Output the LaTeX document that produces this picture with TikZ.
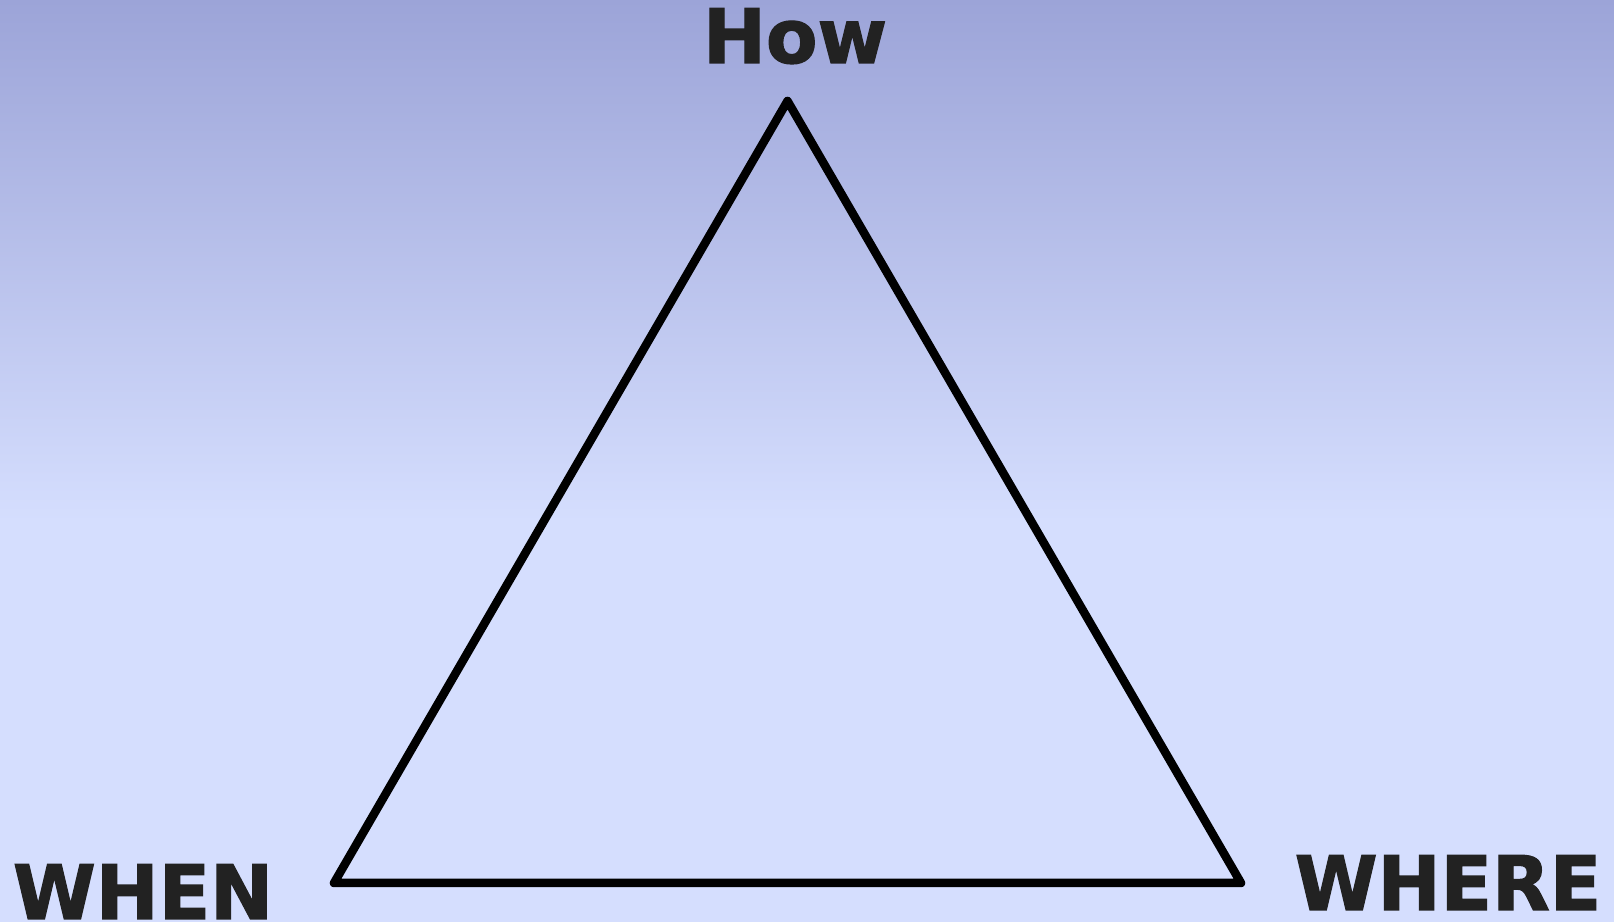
\documentclass[tikz,border=0pt]{standalone}
\usepackage{fontspec}
\setmainfont{DejaVu Sans}
\newfontfamily\heavyfont{DejaVu Sans}[UprightFont={* Bold},FakeBold=1.6]
\usetikzlibrary{positioning}
\definecolor{skytop}{HTML}{9CA4D8}
\definecolor{skylow}{HTML}{D5DEFE}
\definecolor{wordgray}{HTML}{222222}

\begin{document}
\begin{tikzpicture}[font=\heavyfont\fontsize{21.4}{24}\selectfont]
    \tikzstyle{word}=[inner sep=0pt,anchor=base,text depth=0pt,text=wordgray]
    \tikzstyle{edge}=[line width=0.085cm,line join=round,line cap=round]
    \useasboundingbox (0,0) rectangle (16.14,9.22);
    % background
    \fill[skylow] (0,0) rectangle (16.14,4.02);
    \shade[top color=skytop,bottom color=skylow] (0,4) rectangle (16.14,9.22);
    % corners of the triangle
    \coordinate (top)   at (7.875,8.21);
    \coordinate (left)  at (3.34,0.39);
    \coordinate (right) at (12.41,0.39);
    \draw[edge] (top) -- (left) -- (right) -- cycle;
    \node[word] (how)   at (7.95,8.59)  {How};
    \node[word] (when)  at (1.43,0.03) {WHEN};
    \node[word] (where) at (14.48,0.12) {WHERE};
  \end{tikzpicture}
\end{document}
